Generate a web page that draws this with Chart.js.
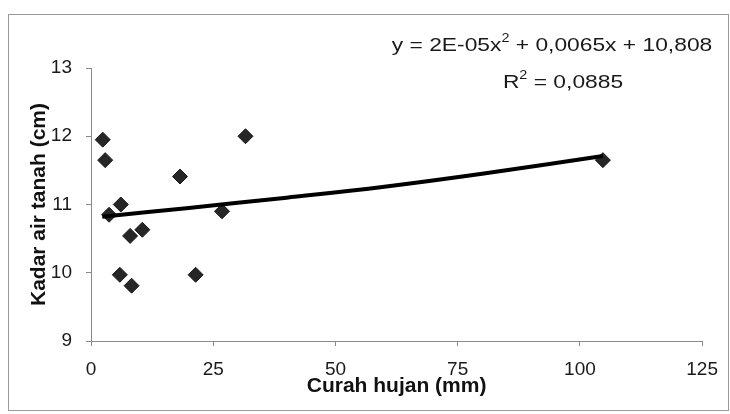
<!DOCTYPE html>
<html>
<head>
<meta charset="utf-8">
<script src="https://cdn.jsdelivr.net/npm/chart.js@4"></script>
<style>
  html, body { margin: 0; padding: 0; background: #fff; }
  #wrap { width: 730px; height: 414px; }
</style>
</head>
<body>
<div id="wrap"><canvas id="myChart" width="730" height="414"></canvas></div>
<script>
// curah hujan (mm) vs kadar air tanah (cm)
const curahHujan = [2.4, 2.9, 31.6, 18.2, 6.1, 3.7, 8.0, 10.5, 26.8, 5.9, 8.3, 21.4, 104.7];
const kadarAir   = [11.95, 11.65, 12.0, 11.41, 11.0, 10.85, 10.54, 10.63, 10.9, 9.97, 9.81, 9.97, 11.65];

// polynomial trend line
const trendX = [2.3, 20, 40, 60, 80, 104.7];
const trendY = [10.82, 10.95, 11.10, 11.26, 11.45, 11.71];

const xTicks = [0, 25, 50, 75, 100, 125];
const yTicks = [9, 10, 11, 12, 13];

const eqLine1 = ['y = 2E-05x', '2', ' + 0,0065x + 10,808'];
const eqLine2 = ['R', '2', ' = 0,0885'];

const ctx = document.getElementById('myChart');

// frame round the whole chart + the equation text (with superscripts)
const extras = {
    id: 'extras',
    beforeDraw(chart) {
        const c = chart.ctx;
        c.save();
        c.strokeStyle = '#9a9a9a';
        c.lineWidth = 1;
        c.strokeRect(8.5, 14.5, 720, 396);
        c.restore();
    },
    afterDraw(chart) {
        const c = chart.ctx;
        const drawEq = (parts, cx, cy) => {
            const sx = 1.2;
            c.save();
            c.fillStyle = '#1a1a1a';
            c.textBaseline = 'middle';
            c.font = '19px "Liberation Sans", Arial, sans-serif';
            let w0 = c.measureText(parts[0]).width;
            let w2 = c.measureText(parts[2]).width;
            c.font = '12px "Liberation Sans", Arial, sans-serif';
            let w1 = c.measureText(parts[1]).width;
            let total = (w0 + w1 + w2) * sx;
            c.translate(cx - total / 2, cy);
            c.scale(sx, 1);
            c.font = '19px "Liberation Sans", Arial, sans-serif';
            c.fillText(parts[0], 0, 0);
            c.font = '12px "Liberation Sans", Arial, sans-serif';
            c.fillText(parts[1], w0, -7);
            c.font = '19px "Liberation Sans", Arial, sans-serif';
            c.fillText(parts[2], w0 + w1, 0);
            c.restore();
        };
        drawEq(eqLine1, 552, 46);
        drawEq(eqLine2, 563, 83);
    }
};

const scatterPts = curahHujan.map((x, i) => ({ x: x, y: kadarAir[i] }));
const trendPts = trendX.map((x, i) => ({ x: x, y: trendY[i] }));

new Chart(ctx, {
    type: 'scatter',
    data: {
        datasets: [
            {
                type: 'line',
                label: 'trend',
                data: trendPts,
                borderColor: '#000',
                borderWidth: 4,
                pointRadius: 0,
                tension: 0.4,
                fill: false,
                order: 0
            },
            {
                label: 'data',
                data: scatterPts,
                pointStyle: 'rectRot',
                pointRadius: 7.5,
                pointHoverRadius: 7.5,
                backgroundColor: '#262626',
                borderColor: '#1a1a1a',
                borderWidth: 1,
                order: 1
            }
        ]
    },
    options: {
        responsive: false,
        animation: false,
        events: [],
        layout: { padding: { top: 68, right: 27, bottom: 0, left: 0 } },
        plugins: {
            legend: { display: false },
            tooltip: { enabled: false }
        },
        scales: {
            x: {
                type: 'linear',
                min: 0,
                max: 125,
                afterFit: (scale) => { scale.height = 73; },
                afterBuildTicks: (scale) => { scale.ticks = xTicks.map(v => ({ value: v })); },
                grid: { drawOnChartArea: false, tickLength: 5, tickColor: '#8a8a8a' },
                border: { color: '#8a8a8a', width: 1 },
                ticks: {
                    padding: 12,
                    color: '#1a1a1a',
                    maxRotation: 0,
                    font: { family: '"Liberation Sans", Arial, sans-serif', size: 19 }
                },
                title: {
                    display: true,
                    text: 'Curah hujan (mm)',
                    color: '#111',
                    padding: { top: 0, bottom: 15 },
                    font: { family: '"Liberation Sans", Arial, sans-serif', size: 21, weight: 'bold' }
                }
            },
            y: {
                min: 9,
                max: 13,
                afterFit: (scale) => { scale.width = 91; },
                afterBuildTicks: (scale) => { scale.ticks = yTicks.map(v => ({ value: v })); },
                grid: { drawOnChartArea: false, tickLength: 5, tickColor: '#8a8a8a' },
                border: { color: '#8a8a8a', width: 1 },
                ticks: {
                    padding: 14,
                    color: '#1a1a1a',
                    font: { family: '"Liberation Sans", Arial, sans-serif', size: 19 }
                },
                title: {
                    display: true,
                    text: 'Kadar air tanah (cm)',
                    color: '#111',
                    padding: { top: 27, bottom: 0 },
                    font: { family: '"Liberation Sans", Arial, sans-serif', size: 21, weight: 'bold' }
                }
            }
        }
    },
    plugins: [extras]
});
</script>
</body>
</html>
